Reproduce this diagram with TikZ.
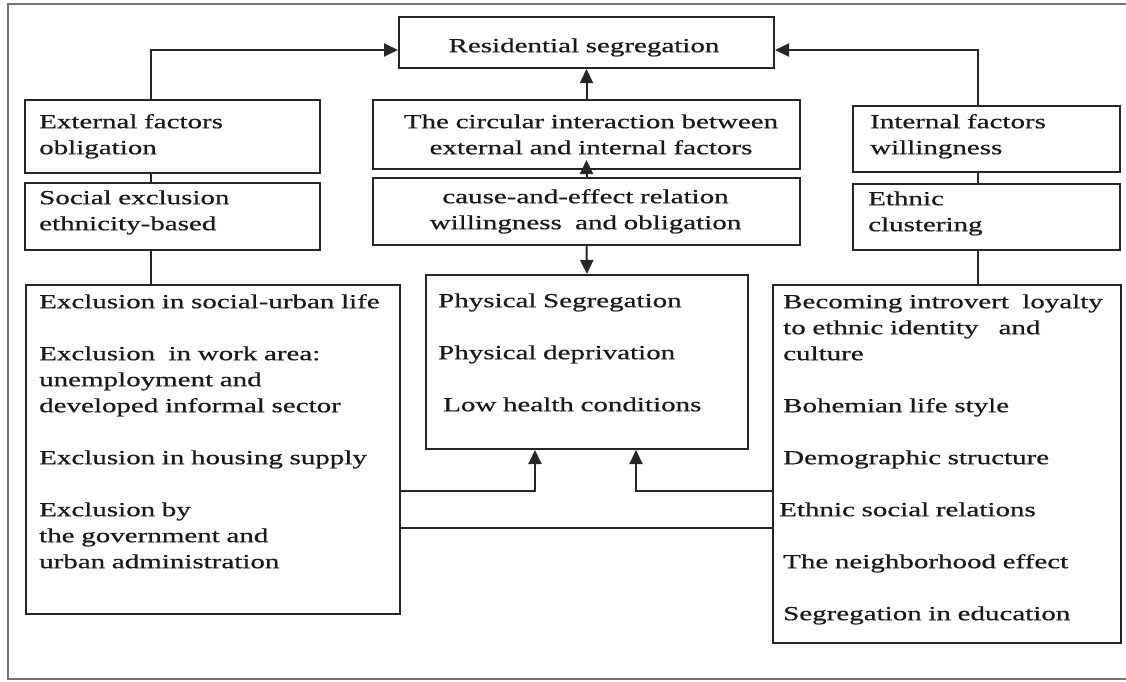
\documentclass[tikz,border=0pt]{standalone}
\usepackage{fontspec}
\setmainfont[FakeStretch=1.45, FakeBold=0.6]{Liberation Serif}
\usetikzlibrary{arrows.meta}

\begin{document}
\begin{tikzpicture}[x=1pt, y=-1pt,
    box/.style={draw=black!85, line width=2pt, rectangle, inner sep=0pt, anchor=north west},
    txt/.style={inner sep=0pt, anchor=north west, align=left, text=black!90, font=\fontsize{20}{26}\selectfont},
    ctxt/.style={txt, anchor=north, align=center},
    link/.style={draw=black!85, line width=2pt},
    arr/.style={link, -{Triangle[length=14pt,width=13pt]}}]
    \useasboundingbox (0,0) rectangle (1126,681);

    % Outer frame
    \draw[black!55, line width=1.8pt] (1126,4) -- (8,4) -- (8,679) -- (1126,679);

    % Boxes
    \node[box, minimum width=375pt, minimum height=51pt] (res) at (398,16) {};
    \node[box, minimum width=295pt, minimum height=73pt] (ext) at (24,99) {};
    \node[box, minimum width=295pt, minimum height=67pt] (soc) at (24,182) {};
    \node[box, minimum width=427pt, minimum height=69pt] (cir) at (372,99) {};
    \node[box, minimum width=427pt, minimum height=67pt] (cau) at (372,177) {};
    \node[box, minimum width=267pt, minimum height=66pt] (intf) at (852,105) {};
    \node[box, minimum width=267pt, minimum height=66pt] (eth) at (852,183) {};
    \node[box, minimum width=374pt, minimum height=329pt] (excl) at (25,284) {};
    \node[box, minimum width=322pt, minimum height=174pt] (phys) at (425,274) {};
    \node[box, minimum width=348pt, minimum height=358pt] (intr) at (772,284) {};

    % Texts
    \node[ctxt, text width=375pt] (resT) at (584,33.8) {\strut Residential segregation};
    \node[txt, text width=275pt] (extT) at (39,109.8) {\strut External factors\\obligation};
    \node[txt, text width=275pt] (socT) at (39,185.8) {\strut Social exclusion\\ethnicity-based};
    \node[ctxt, text width=427pt] (cirT) at (591,109.8) {\strut The circular interaction between\\external and internal factors};
    \node[ctxt, text width=427pt] (cauT) at (585.5,184.8) {\strut cause-and-effect relation\\willingness\ \ and obligation};
    \node[txt, text width=245pt] (intfT) at (870,109.8) {\strut Internal factors\\willingness};
    \node[txt, text width=245pt] (ethT) at (868,186.8) {\strut Ethnic\\clustering};
    \node[txt, text width=358pt] (exclT) at (39,289.8) {\strut Exclusion in social-urban life\\[26pt]
        Exclusion\ \ in work area:\\unemployment and\\developed informal sector\\[26pt]
        Exclusion in housing supply\\[26pt]
        Exclusion by\\the government and\\urban administration};
    \node[txt, text width=305pt] (physT) at (438,288.8) {\strut Physical Segregation\\[26pt]
        Physical deprivation\\[26pt]
        \hspace*{5pt}Low health conditions};
    \node[txt, text width=335pt] (intrT) at (783,289.8) {\strut Becoming introvert\ \ loyalty\\
        to ethnic identity\ \ \ and\\culture\\[26pt]
        Bohemian life style\\[26pt]
        Demographic structure\\[26pt]
        \hspace*{-4pt}Ethnic social relations\\[26pt]
        The neighborhood effect\\[26pt]
        Segregation in education};

    % Left column links
    \draw[arr] ([xshift=-21.5pt]ext.north) |- ([yshift=-7.5pt]res.west);
    \draw[link] ([xshift=-21.5pt]ext.south) -- ([xshift=-21.5pt]soc.north);
    \draw[link] ([xshift=-21.5pt]soc.south) -- ([xshift=-21.5pt]soc.south |- excl.north);

    % Right column links
    \draw[arr] ([xshift=-8.5pt]intf.north) |- ([yshift=-7.5pt]res.east);
    \draw[link] ([xshift=-8.5pt]intf.south) -- ([xshift=-8.5pt]eth.north);
    \draw[link] ([xshift=-8.5pt]eth.south) -- ([xshift=-8.5pt]eth.south |- intr.north);

    % Middle column links
    \draw[arr] (cir.north) -- (res.south);
    \draw[arr] (cau.north) -- ([yshift=10pt]cir.south);
    \draw[arr] (cau.south) -- (phys.north);

    % Links to physical segregation
    \draw[arr] ([yshift=-41.5pt]excl.east) -| ([xshift=-52pt]phys.south);
    \draw[arr] ([yshift=-27pt]intr.west) -| ([xshift=49pt]phys.south);
    \draw[link] ([yshift=-78.5pt]excl.east) -- ([yshift=-64pt]intr.west);
\end{tikzpicture}
\end{document}
